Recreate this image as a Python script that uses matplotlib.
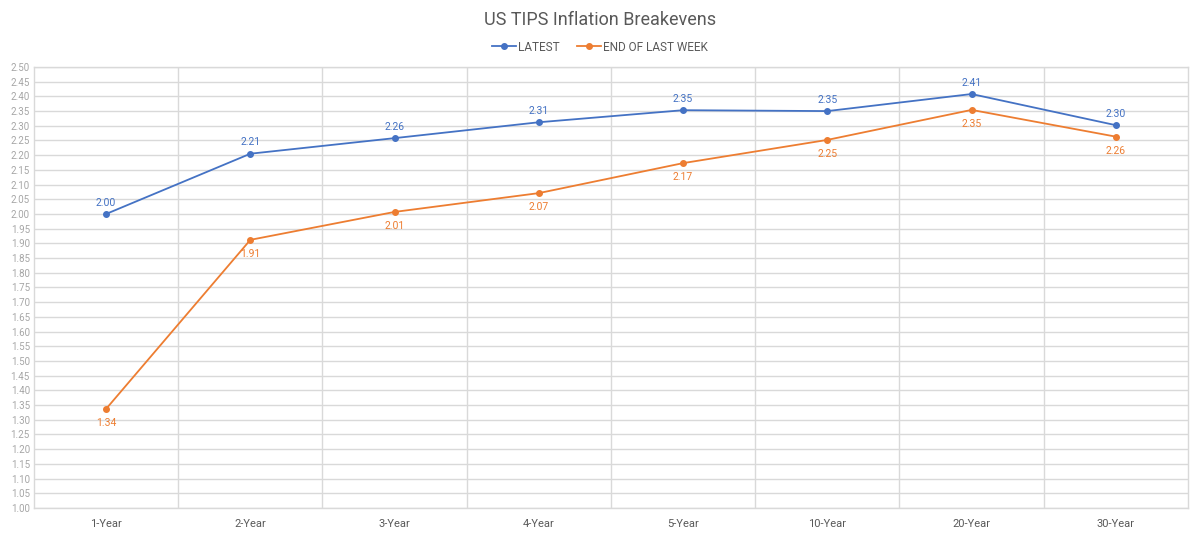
import matplotlib
matplotlib.use("Agg")
import matplotlib.pyplot as plt
import numpy as np

categories = ["1-Year", "2-Year", "3-Year", "4-Year", "5-Year", "10-Year", "20-Year", "30-Year"]
latest = [2.00, 2.205, 2.258, 2.312, 2.353, 2.350, 2.408, 2.302]
latest_labels = ["2.00", "2.21", "2.26", "2.31", "2.35", "2.35", "2.41", "2.30"]
last_week = [1.337, 1.912, 2.007, 2.071, 2.173, 2.252, 2.354, 2.263]
last_week_labels = ["1.34", "1.91", "2.01", "2.07", "2.17", "2.25", "2.35", "2.26"]
yticks = np.round(np.arange(1.00, 2.5001, 0.05), 2)

plt.rcParams['font.family'] = ['Roboto', 'DejaVu Sans']
BLUE = "#4472C4"
ORANGE = "#ED7D31"
GRID = "#d9d9d9"

fig = plt.figure(figsize=(12, 5.35), dpi=100)
ax = fig.add_axes([0.0283, 0.0505, 0.9617, 0.8243])
x = np.arange(len(categories))

ax.plot(x, latest, color=BLUE, marker="o", markersize=4, linewidth=1.3, label="LATEST", zorder=3)
ax.plot(x, last_week, color=ORANGE, marker="o", markersize=4, linewidth=1.3, label="END OF LAST WEEK", zorder=3)

for xi, v, t in zip(x, latest, latest_labels):
    ax.annotate(t, (xi, v), xytext=(0, 4.5), textcoords="offset points", ha="center", va="bottom",
                color=BLUE, fontsize=7.5)
for xi, v, t in zip(x, last_week, last_week_labels):
    ax.annotate(t, (xi, v), xytext=(0, -6.5), textcoords="offset points", ha="center", va="top",
                color=ORANGE, fontsize=7.5)

ax.set_xlim(-0.5, len(categories) - 0.5)
ax.set_ylim(1.0, 2.5)
ax.set_yticks(yticks)
ax.set_yticklabels([f"{v:.2f}" for v in yticks], color="#a6a6a6", fontsize=7)
ax.set_xticks(x)
ax.set_xticklabels(categories, color="#595959", fontsize=8)
ax.set_xticks(np.arange(0.5, len(categories) - 0.5, 1.0), minor=True)
ax.tick_params(axis="both", which="both", length=0)
ax.tick_params(axis="x", pad=8)
ax.tick_params(axis="y", pad=3)
ax.grid(True, axis="y", color=GRID, linewidth=1)
ax.grid(True, axis="x", which="minor", color=GRID, linewidth=1)
ax.grid(False, axis="x", which="major")
for s in ax.spines.values():
    s.set_color(GRID)
    s.set_linewidth(1)

fig.text(0.5, 0.962, "US TIPS Inflation Breakevens", ha="center", va="center", fontsize=13, color="#595959")
fig.legend(loc="center", bbox_to_anchor=(0.5, 0.912), ncol=2, frameon=False, fontsize=8.5,
           handlelength=2.0, columnspacing=1.5, handletextpad=0.2, labelcolor="#595959")

fig.savefig("out.png", dpi=100, facecolor="white")
